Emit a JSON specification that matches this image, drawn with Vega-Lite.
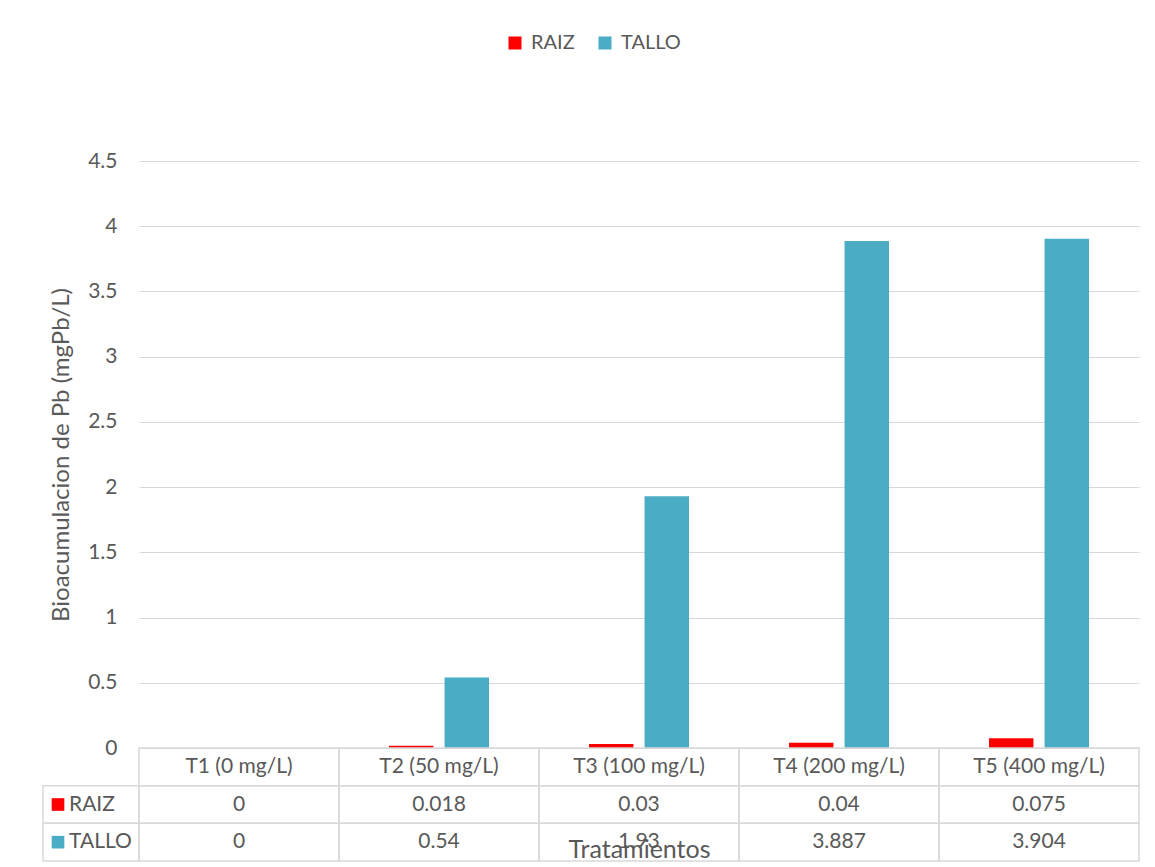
{
  "$schema": "https://vega.github.io/schema/vega-lite/v6.json",
  "background": "white",
  "padding": {"left": 42, "top": 33, "right": 10, "bottom": 0},
  "columns": 2,
  "spacing": 0,
  "bounds": "flush",
  "config": {
    "font": "Lato",
    "view": {"stroke": null}
  },
  "datasets": {
    "bio": [
      {"tratamiento": "T1 (0 mg/L)", "serie": "RAIZ", "valor": 0},
      {"tratamiento": "T2 (50 mg/L)", "serie": "RAIZ", "valor": 0.018},
      {"tratamiento": "T3 (100 mg/L)", "serie": "RAIZ", "valor": 0.03},
      {"tratamiento": "T4 (200 mg/L)", "serie": "RAIZ", "valor": 0.04},
      {"tratamiento": "T5 (400 mg/L)", "serie": "RAIZ", "valor": 0.075},
      {"tratamiento": "T1 (0 mg/L)", "serie": "TALLO", "valor": 0},
      {"tratamiento": "T2 (50 mg/L)", "serie": "TALLO", "valor": 0.54},
      {"tratamiento": "T3 (100 mg/L)", "serie": "TALLO", "valor": 1.93},
      {"tratamiento": "T4 (200 mg/L)", "serie": "TALLO", "valor": 3.887},
      {"tratamiento": "T5 (400 mg/L)", "serie": "TALLO", "valor": 3.904}
    ]
  },
  "concat": [
    {
      "width": 96,
      "height": 587,
      "data": {"values": []},
      "mark": "point"
    },
    {
      "width": 1000,
      "height": 587,
      "data": {"name": "bio"},
      "mark": {"type": "bar"},
      "encoding": {
        "x": {
          "field": "tratamiento",
          "type": "nominal",
          "sort": null,
          "scale": {"paddingInner": 0.5, "paddingOuter": 0.25},
          "axis": null
        },
        "xOffset": {
          "field": "serie",
          "type": "nominal",
          "scale": {"domain": ["RAIZ", "TALLO"], "paddingInner": 0.2, "paddingOuter": 0}
        },
        "y": {
          "field": "valor",
          "type": "quantitative",
          "scale": {"domain": [0, 4.5], "nice": false},
          "axis": {
            "values": [0, 0.5, 1, 1.5, 2, 2.5, 3, 3.5, 4, 4.5],
            "format": "~g",
            "title": "Bioacumulacion de Pb (mgPb/L)",
            "grid": true,
            "gridColor": "#D9D9D9",
            "gridWidth": 1,
            "domain": false,
            "ticks": false,
            "labelPadding": 22,
            "labelFontSize": 21,
            "labelColor": "#595959",
            "titleFontSize": 24,
            "titleFontWeight": "normal",
            "titleColor": "#595959",
            "titlePadding": 14
          }
        },
        "color": {
          "field": "serie",
          "type": "nominal",
          "scale": {"domain": ["RAIZ", "TALLO"], "range": ["#FF0000", "#4BACC6"]},
          "legend": {
            "title": null,
            "orient": "none",
            "direction": "horizontal",
            "legendX": 462,
            "legendY": -128,
            "padding": 0,
            "symbolType": "square",
            "symbolSize": 169,
            "symbolStrokeWidth": 0,
            "symbolOpacity": 1,
            "labelFontSize": 20,
            "labelColor": "#595959",
            "labelOffset": 6,
            "columnPadding": 20
          }
        }
      }
    },
    {
      "width": 96,
      "height": 113,
      "data": {"name": "bio"},
      "transform": [{"aggregate": [], "groupby": ["serie"]}],
      "encoding": {
        "y": {
          "field": "serie",
          "type": "nominal",
          "scale": {"domain": ["hdr", "RAIZ", "TALLO"], "paddingInner": 0, "paddingOuter": 0},
          "axis": null
        }
      },
      "layer": [
        {
          "mark": {"type": "rect", "fill": "transparent", "stroke": "#D9D9D9", "strokeWidth": 1.5}
        },
        {
          "mark": {"type": "square", "size": 160, "xOffset": -33, "opacity": 1},
          "encoding": {
            "color": {
              "field": "serie",
              "type": "nominal",
              "scale": {"domain": ["RAIZ", "TALLO"], "range": ["#FF0000", "#4BACC6"]},
              "legend": null
            }
          }
        },
        {
          "mark": {"type": "text", "align": "left", "dx": -22, "fontSize": 21, "color": "#595959"},
          "encoding": {"text": {"field": "serie", "type": "nominal"}}
        }
      ]
    },
    {
      "width": 1000,
      "height": 113,
      "data": {"name": "bio"},
      "encoding": {
        "x": {
          "field": "tratamiento",
          "type": "nominal",
          "sort": null,
          "scale": {"paddingInner": 0, "paddingOuter": 0},
          "axis": {
            "title": "Tratamientos",
            "orient": "bottom",
            "labels": false,
            "ticks": false,
            "domain": false,
            "titlePadding": -24,
            "titleFontSize": 25,
            "titleFontWeight": "normal",
            "titleColor": "#595959"
          }
        },
        "y": {
          "field": "serie",
          "type": "nominal",
          "scale": {"domain": ["hdr", "RAIZ", "TALLO"], "paddingInner": 0, "paddingOuter": 0},
          "axis": null
        }
      },
      "layer": [
        {
          "mark": {"type": "rect", "fill": "transparent", "stroke": "#D9D9D9", "strokeWidth": 1.5}
        },
        {
          "transform": [{"filter": "datum.serie == 'RAIZ'"}],
          "mark": {"type": "rect", "fill": "transparent", "stroke": "#D9D9D9", "strokeWidth": 1.5},
          "encoding": {"y": {"datum": "hdr", "type": "nominal"}}
        },
        {
          "mark": {"type": "text", "fontSize": 21, "color": "#595959"},
          "encoding": {"text": {"field": "valor", "type": "quantitative", "format": "~g"}}
        },
        {
          "transform": [{"filter": "datum.serie == 'RAIZ'"}],
          "mark": {"type": "text", "fontSize": 21, "color": "#595959"},
          "encoding": {
            "y": {"datum": "hdr", "type": "nominal"},
            "text": {"field": "tratamiento", "type": "nominal"}
          }
        }
      ]
    }
  ]
}
